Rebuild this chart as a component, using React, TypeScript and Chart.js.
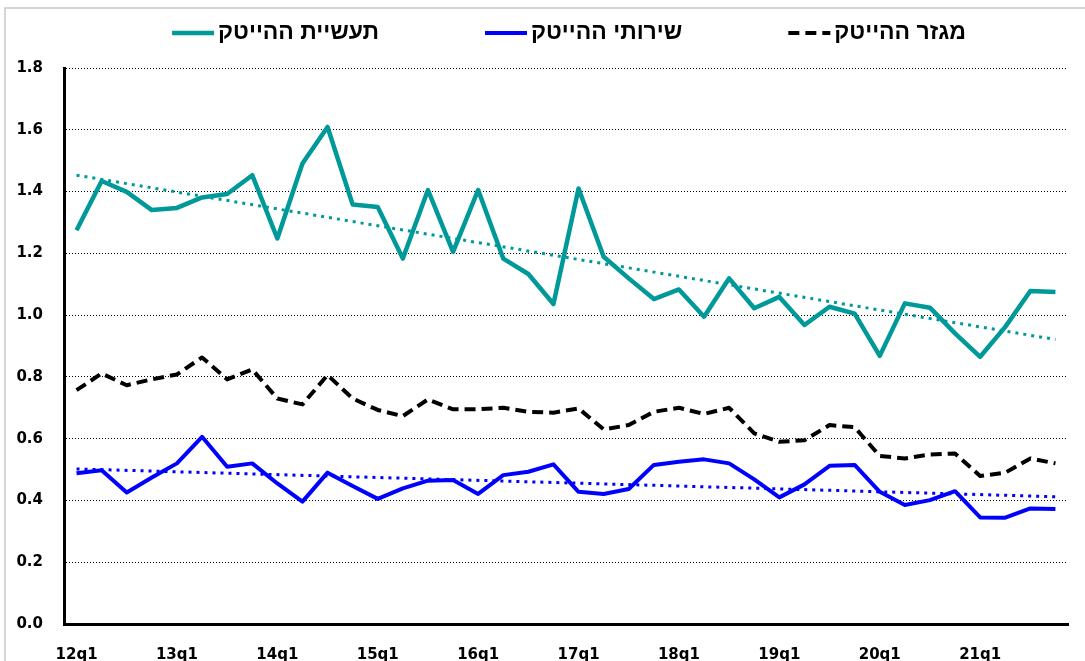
import React, { useEffect, useRef } from "react";
import { Chart, registerables } from "chart.js";

Chart.register(...registerables);

const quarters: string[] = [];
for (let y = 12; y <= 21; y++) for (let q = 1; q <= 4; q++) quarters.push(`${y}q${q}`);

const industryLabel = "תעשיית ההייטק";
const servicesLabel = "שירותי ההייטק";
const sectorLabel = "מגזר ההייטק";

const industry = [1.275, 1.434, 1.399, 1.340, 1.347, 1.381, 1.392, 1.453, 1.248, 1.491, 1.609, 1.358, 1.350, 1.183, 1.405, 1.205, 1.405, 1.183, 1.133, 1.036, 1.410, 1.189, 1.119, 1.052, 1.083, 0.995, 1.119, 1.022, 1.059, 0.968, 1.027, 1.005, 0.868, 1.038, 1.024, 0.941, 0.865, 0.962, 1.078, 1.075];
const services = [0.488, 0.498, 0.426, 0.474, 0.520, 0.606, 0.509, 0.520, 0.455, 0.396, 0.490, 0.447, 0.405, 0.439, 0.464, 0.466, 0.421, 0.482, 0.493, 0.517, 0.428, 0.421, 0.437, 0.515, 0.525, 0.533, 0.520, 0.468, 0.410, 0.452, 0.512, 0.515, 0.428, 0.385, 0.401, 0.430, 0.345, 0.344, 0.374, 0.372];
const sector = [0.757, 0.811, 0.773, 0.792, 0.808, 0.863, 0.792, 0.824, 0.730, 0.711, 0.806, 0.730, 0.693, 0.673, 0.727, 0.695, 0.695, 0.700, 0.687, 0.684, 0.698, 0.630, 0.644, 0.687, 0.700, 0.680, 0.700, 0.617, 0.590, 0.595, 0.644, 0.637, 0.544, 0.536, 0.549, 0.552, 0.479, 0.490, 0.536, 0.520];

// trend lines: endpoints
const industryTrendEnds = [1.453, 0.921];
const servicesTrendEnds = [0.502, 0.412];

const yTicks = [0, 0.2, 0.4, 0.6, 0.8, 1.0, 1.2, 1.4, 1.6, 1.8];

const TEAL = "#009999";
const BLUE = "#0000ff";
const BLACK = "#000000";

function trendSeries(ends: number[]): (number | null)[] {
  return quarters.map((_, i) => (i === 0 ? ends[0] : i === quarters.length - 1 ? ends[1] : null));
}

const framePlugin = {
  id: "frame",
  beforeDraw(chart: any) {
    const ctx = chart.ctx;
    ctx.save();
    ctx.fillStyle = "#ffffff";
    ctx.fillRect(0, 0, chart.width, chart.height);
    ctx.strokeStyle = "#c8c8c8";
    ctx.lineWidth = 1.5;
    ctx.beginPath();
    ctx.moveTo(5, chart.height + 5);
    ctx.lineTo(5, 8);
    ctx.lineTo(chart.width + 5, 8);
    ctx.stroke();
    ctx.restore();
  },
};

const legendPlugin = {
  id: "customLegend",
  afterDraw(chart: any) {
    const ctx = chart.ctx;
    const items = chart.data.datasets.filter((d: any) => !d.isTrend);
    const font = "bold 23px 'Liberation Sans', Arial, sans-serif";
    ctx.save();
    ctx.font = font;
    const lineW = 42;
    const gapText = 4;
    const gapItem = 106;
    const widths = items.map((d: any) => ctx.measureText(d.label).width);
    const total = widths.reduce((a: number, w: number) => a + lineW + gapText + w, 0) + gapItem * (items.length - 1);
    let x = 569 - total / 2;
    const y = 33;
    items.forEach((d: any, i: number) => {
      ctx.save();
      ctx.strokeStyle = d.borderColor;
      ctx.lineWidth = d.borderWidth;
      ctx.setLineDash(d.borderDash || []);
      ctx.beginPath();
      ctx.moveTo(x, y);
      ctx.lineTo(x + lineW, y);
      ctx.stroke();
      ctx.restore();
      ctx.fillStyle = "#000";
      ctx.textBaseline = "middle";
      ctx.textAlign = "left";
      ctx.fillText(d.label, x + lineW + gapText, y);
      x += lineW + gapText + widths[i] + gapItem;
    });
    ctx.restore();
  },
};

export default function App() {
  const ref = useRef<HTMLCanvasElement>(null);
  useEffect(() => {
    if (!ref.current) return;
    const tickFont = { family: "'DejaVu Sans', Verdana, sans-serif", size: 15, weight: "bold" as const };
    const chart = new Chart(ref.current, {
      type: "line",
      data: {
        labels: quarters,
        datasets: [
          {
            label: industryLabel + " trend",
            isTrend: true,
            data: trendSeries(industryTrendEnds),
            borderColor: TEAL,
            borderWidth: 3,
            borderDash: [3, 5],
            spanGaps: true,
            pointRadius: 0,
            order: 0,
          } as any,
          {
            label: servicesLabel + " trend",
            isTrend: true,
            data: trendSeries(servicesTrendEnds),
            borderColor: BLUE,
            borderWidth: 3,
            borderDash: [3, 5],
            spanGaps: true,
            pointRadius: 0,
            order: 0,
          } as any,
          {
            label: industryLabel,
            data: industry,
            borderColor: TEAL,
            borderWidth: 4.5,
            borderJoinStyle: "round",
            pointRadius: 0,
            order: 1,
          },
          {
            label: servicesLabel,
            data: services,
            borderColor: BLUE,
            borderWidth: 4,
            borderJoinStyle: "round",
            pointRadius: 0,
            order: 1,
          },
          {
            label: sectorLabel,
            data: sector,
            borderColor: BLACK,
            borderWidth: 4,
            borderDash: [11, 6],
            borderJoinStyle: "round",
            pointRadius: 0,
            order: 1,
          },
        ],
      },
      options: {
        responsive: false,
        animation: false,
        layout: { padding: { left: 14, right: 17, top: 68, bottom: 0 } },
        plugins: {
          legend: { display: false },
          tooltip: { enabled: false },
        },
        scales: {
          x: {
            offset: true,
            grid: { display: false, drawTicks: false },
            border: { display: true, color: "#000", width: 3 },
            afterFit: (axis: any) => {
              axis.height = 37;
            },
            ticks: {
              autoSkip: false,
              maxRotation: 0,
              padding: 22,
              color: "#000",
              font: tickFont,
              callback: function (this: any, _v: any, i: number) {
                const l = quarters[i];
                return l.endsWith("q1") ? l : "";
              },
            },
          },
          y: {
            min: 0,
            max: 1.8,
            afterBuildTicks: (axis: any) => {
              axis.ticks = yTicks.map((v) => ({ value: v }));
            },
            afterFit: (axis: any) => {
              axis.width = 50;
            },
            grid: {
              color: (c: any) => (c.tick && c.tick.value === 0 ? "rgba(0,0,0,0)" : "#000"),
              lineWidth: 1,
              drawTicks: false,
            },
            border: { display: true, color: "#000", width: 3, dash: [1, 2] },
            ticks: {
              padding: 21,
              color: "#000",
              font: tickFont,
              callback: (v: any) => Number(v).toFixed(1),
            },
          },
        },
      } as any,
      plugins: [framePlugin, legendPlugin],
    });
    return () => chart.destroy();
  }, []);
  return (
    <div style={{ position: "fixed", left: 0, top: 0, width: 1085, height: 661, background: "#fff" }}>
      <canvas ref={ref} width={1085} height={661} />
    </div>
  );
}
